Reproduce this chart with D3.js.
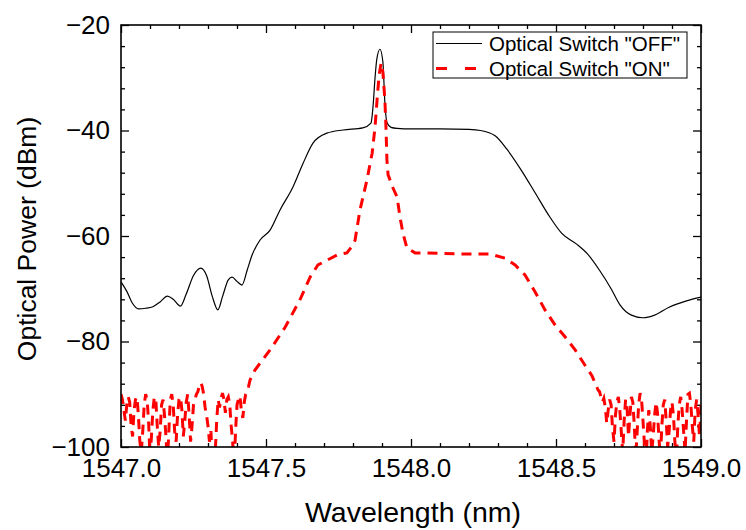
<!DOCTYPE html>
<html><head><meta charset="utf-8">
<script src="https://cdn.jsdelivr.net/npm/d3@7"></script>
<style>body{margin:0;background:#fff}svg{display:block}text{font-family:Arial,"Liberation Sans",sans-serif}</style>
</head><body><div id="chart"></div>
<script>
// ---- data ----
const xTickValues = [1547.0, 1547.5, 1548.0, 1548.5, 1549.0];
const yTickValues = [-100, -80, -60, -40, -20];
const seriesNames = ['Optical Switch "OFF"', 'Optical Switch "ON"'];

const offWl = [1547.000,1547.020,1547.040,1547.060,1547.085,1547.110,1547.135,1547.160,1547.180,1547.205,1547.225,1547.250,1547.275,1547.295,1547.315,1547.334,1547.350,1547.370,1547.383,1547.400,1547.417,1547.435,1547.452,1547.479,1547.514,1547.548,1547.593,1547.628,1547.662,1547.710,1547.766,1547.834,1547.862,1547.869,1547.876,1547.882,1547.893,1547.903,1547.910,1547.917,1547.931,1547.952,1548.000,1548.100,1548.200,1548.240,1548.290,1548.330,1548.380,1548.430,1548.480,1548.520,1548.570,1548.610,1548.650,1548.690,1548.720,1548.760,1548.800,1548.840,1548.890,1548.950,1549.000];
const offDbm = [-68.7,-70.5,-72.8,-73.8,-73.7,-73.4,-72.5,-71.4,-72.0,-73.3,-71.0,-67.5,-66.1,-67.5,-71.5,-74.0,-71.5,-68.3,-67.8,-68.6,-69.3,-66.5,-63.6,-60.8,-58.9,-55.1,-50.7,-46.2,-42.4,-40.5,-39.9,-39.5,-38.6,-35.5,-30.0,-26.5,-24.6,-27.0,-34.8,-38.5,-39.4,-39.6,-39.7,-39.7,-39.8,-40.0,-41.0,-43.5,-47.5,-52.0,-56.5,-59.5,-61.5,-63.5,-66.5,-70.0,-73.0,-75.0,-75.5,-75.0,-73.5,-72.3,-71.6];

// ON: noisy floor left (1547.000..1547.445, every 0.005 nm)
const onLeftNoiseDbm = [-90,-91,-93,-95,-92,-90.5,-91.5,-96,-98,-93,-91,
 -90.5,-94,-99,-101,-97,-92,-90,-91,-95,-102,
 -98,-93,-90.5,-91,-96,-100,-97,-92,-91,-94,
 -98,-103,-97,-91,-90,-92,-97,-99,-94,-91,
 -90.5,-93,-98,-95,-91.5,-90,-94,-99,-96,-92,
 -91,-90,-89.5,-88.5,-87.8,-88.5,
 -90,-92.5,-94,-96,-99,-97,-103,-105,
 -101,-95,-91,-92.5,-90.8,-89.8,
 -91,-93.5,-91,-90.5,-92,-96,-99,-104,-97,-92,
 -91,-90.3,-93,-94.5,-91.5,-90,-89.5,-88.5,-87.3];
// ON: main spectrum
const onMainWl = [1547.462,1547.514,1547.566,1547.617,1547.652,1547.679,1547.745,1547.779,1547.800,1547.807,1547.824,1547.848,1547.866,1547.876,1547.883,1547.890,1547.897,1547.903,1547.910,1547.914,1547.917,1547.921,1547.938,1547.952,1547.962,1547.972,1547.986,1548.014,1548.055,1548.169,1548.272,1548.324,1548.359,1548.393,1548.428,1548.462,1548.497,1548.531,1548.566,1548.600,1548.624,1548.645];
const onMainDbm = [-85.4,-81.6,-77.3,-72.1,-67.8,-65.5,-63.6,-63.2,-61.7,-60.8,-55.1,-49.4,-44.3,-39.3,-34.2,-29.5,-27.2,-28.9,-34.2,-39.9,-45.6,-48.4,-50.9,-52.6,-56.4,-59.4,-62.3,-63.2,-63.2,-63.4,-63.4,-64.2,-65.5,-67.4,-70.6,-74.0,-76.9,-79.1,-81.6,-84.5,-86.5,-89.2];
// ON: noisy floor right (1548.650..1549.000, every 0.005 nm)
const onRightNoiseDbm = [-89.5,-90.5,-91.5,-90.8,-92.5,-95.5,-93,-91,-92,-96.5,
 -99,-94,-91.5,-90.5,-93,-97,-101,-95,-91,-92.5,
 -98,-94,-90.5,-91.5,-96,-102,-97,-92,-89.8,-91,
 -95,-99.5,-104,-97,-93,-96,-101,-98,-94,-91.5,
 -93.5,-98.5,-102,-96,-92,-91,-95,-100,-97,-93,
 -91.5,-94,-99,-103,-96,-92,-90.5,-93,-97,-101,
 -95,-90,-89.8,-92,-96,-99,-93,-91,-94,-98,-92];

// ---- build series ----
const offData = offWl.map((w,i)=>({x:w,y:offDbm[i]}));
const onData = [];
onLeftNoiseDbm.forEach((v,i)=>onData.push({x:1547+i*0.005,y:v}));
onMainWl.forEach((w,i)=>onData.push({x:w,y:onMainDbm[i]}));
onRightNoiseDbm.forEach((v,i)=>onData.push({x:1548.65+i*0.005,y:v}));

// ---- chart ----
const W=746,H=530;
const L=121,R=701,T=25,B=447;
const svg=d3.select('#chart').append('svg').attr('width',W).attr('height',H);
const x=d3.scaleLinear().domain([1547,1549]).range([L,R]);
const y=d3.scaleLinear().domain([-100,-20]).range([B,T]);

svg.append('defs').append('clipPath').attr('id','clip')
  .append('rect').attr('x',L).attr('y',T).attr('width',R-L).attr('height',B-T);

const minorX=d3.range(1547,1549.0001,0.1).map(v=>+v.toFixed(1)).filter(v=>!xTickValues.includes(v));
const minorY=d3.range(-100,-19,4).filter(v=>!yTickValues.includes(v));

function styleAxis(g){g.select('.domain').remove();g.selectAll('line').attr('stroke','#000').attr('stroke-width',1.3);}

// bottom
svg.append('g').attr('transform',`translate(0,${B})`)
  .call(d3.axisBottom(x).tickValues(xTickValues).tickSize(-8).tickPadding(12).tickFormat(d3.format('.1f')))
  .call(styleAxis).call(g=>g.selectAll('text').attr('font-size',26).attr('fill','#000'));
svg.append('g').attr('transform',`translate(0,${B})`)
  .call(d3.axisBottom(x).tickValues(minorX).tickSize(-4).tickFormat(''))
  .call(styleAxis);
// top
svg.append('g').attr('transform',`translate(0,${T})`)
  .call(d3.axisTop(x).tickValues(xTickValues).tickSize(-8).tickFormat(''))
  .call(styleAxis);
svg.append('g').attr('transform',`translate(0,${T})`)
  .call(d3.axisTop(x).tickValues(minorX).tickSize(-4).tickFormat(''))
  .call(styleAxis);
// left
svg.append('g').attr('transform',`translate(${L},0)`)
  .call(d3.axisLeft(y).tickValues(yTickValues).tickSize(-8).tickPadding(11).tickFormat(d3.format('d')))
  .call(styleAxis).call(g=>g.selectAll('text').attr('font-size',26).attr('fill','#000'));
svg.append('g').attr('transform',`translate(${L},0)`)
  .call(d3.axisLeft(y).tickValues(minorY).tickSize(-4).tickFormat(''))
  .call(styleAxis);
// right
svg.append('g').attr('transform',`translate(${R},0)`)
  .call(d3.axisRight(y).tickValues(yTickValues).tickSize(-8).tickFormat(''))
  .call(styleAxis);
svg.append('g').attr('transform',`translate(${R},0)`)
  .call(d3.axisRight(y).tickValues(minorY).tickSize(-4).tickFormat(''))
  .call(styleAxis);

// lines
const plot=svg.append('g').attr('clip-path','url(#clip)');
plot.append('path').datum(offData)
  .attr('d',d3.line().x(d=>x(d.x)).y(d=>y(d.y)).curve(d3.curveMonotoneX))
  .attr('fill','none').attr('stroke','#000').attr('stroke-width',1.2);
plot.append('path').datum(onData)
  .attr('d',d3.line().x(d=>x(d.x)).y(d=>y(d.y)).curve(d3.curveLinear))
  .attr('fill','none').attr('stroke','#ff0000').attr('stroke-width',3).attr('stroke-dasharray','10,7');

// frame
svg.append('rect').attr('x',L).attr('y',T).attr('width',R-L).attr('height',B-T)
  .attr('fill','none').attr('stroke','#000').attr('stroke-width',1.6);

// axis titles
svg.append('text').attr('x',413).attr('y',522).attr('text-anchor','middle')
  .attr('font-size',28.5).text('Wavelength (nm)');
svg.append('text').attr('transform',`translate(36,${(T+B)/2+3}) rotate(-90)`).attr('text-anchor','middle')
  .attr('font-size',26.5).text('Optical Power (dBm)');

// legend
const lg=svg.append('g');
lg.append('rect').attr('x',433).attr('y',32).attr('width',254).attr('height',46)
  .attr('fill','#fff').attr('stroke','#000').attr('stroke-width',1);
lg.append('line').attr('x1',436).attr('x2',482).attr('y1',43.5).attr('y2',43.5)
  .attr('stroke','#000').attr('stroke-width',1.2);
lg.append('line').attr('x1',436).attr('x2',482).attr('y1',68.5).attr('y2',68.5)
  .attr('stroke','#ff0000').attr('stroke-width',3).attr('stroke-dasharray','11,18');
lg.append('text').attr('x',489).attr('y',51).attr('font-size',20.5).text(seriesNames[0]);
lg.append('text').attr('x',489).attr('y',76).attr('font-size',20.5).text(seriesNames[1]);
</script></body></html>
